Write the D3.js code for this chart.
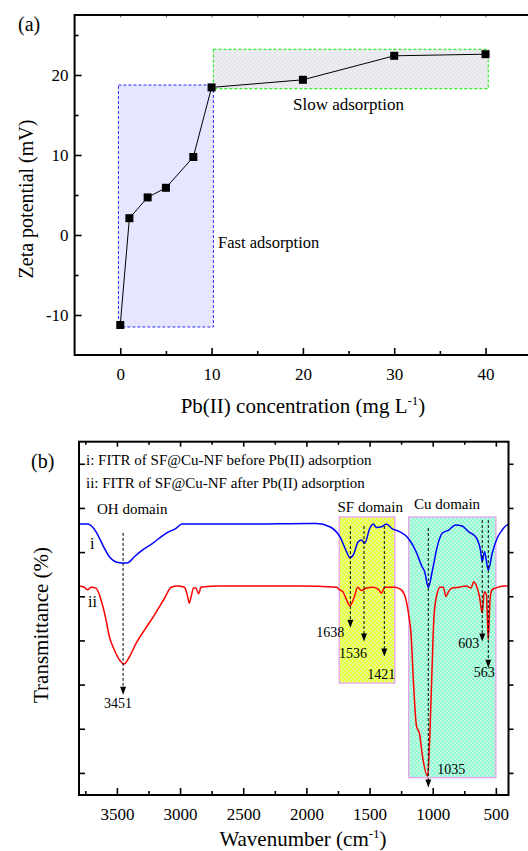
<!DOCTYPE html>
<html>
<head>
<meta charset="utf-8">
<script src="https://cdn.jsdelivr.net/npm/d3@7/dist/d3.min.js"></script>
<style>
  body { margin: 0; background: #fff; }
  svg { display: block; }
  text { font-family: "Liberation Serif", "Times New Roman", serif; fill: #000; }
</style>
</head>
<body>
<div id="chart"></div>
<script>
// ---- panel (a): zeta potential vs Pb(II) concentration
const conc = [0, 1, 3, 5, 8, 10, 20, 30, 40]
const zeta = [-11.25, 2.1, 4.7, 5.9, 9.75, 18.45, 19.4, 22.4, 22.6]
const fastBox = [-0.2, 10.2, -11.5, 18.75]   // x0, x1, y0, y1
const slowBox = [10.2, 40.3, 18.3, 23.2]
const zetaTicks = [-10, 0, 10, 20]
const zetaMinor = [-15, -5, 5, 15, 25]
const concTicks = [0, 10, 20, 30, 40]
const concMinor = [-5, 5, 15, 25, 35]

// ---- panel (b): FTIR spectra
const waveI = [3800, 3731, 3665, 3612, 3560, 3481, 3444, 3414, 3362, 3296, 3217, 3111, 3032, 2985, 2446, 1971, 1920, 1815, 1735, 1682, 1656, 1629, 1590, 1564, 1538, 1498, 1471, 1445, 1405, 1366, 1326, 1260, 1196, 1127, 1087, 1063, 1035, 1004, 964, 925, 873, 820, 767, 714, 661, 622, 608, 590, 560, 529, 490, 450, 410, 400]
const transI = [112.7, 112.7, 109.2, 103.2, 97.9, 95.2, 95.1, 95.2, 97.9, 101, 104, 108.5, 110.8, 112.7, 112.7, 113.0, 113.0, 111.5, 107, 100.2, 97.5, 98.7, 104.7, 105.5, 104, 110.8, 112.7, 111.2, 111.5, 112.7, 110.8, 109.2, 106.4, 99.6, 93.7, 91, 84, 91.2, 102.5, 108.5, 110, 112.3, 111.8, 109.2, 107, 101, 95.7, 100.2, 91.9, 99.5, 106.3, 110, 112.3, 112.5]
const waveII = [3800, 3758, 3731, 3705, 3665, 3626, 3586, 3560, 3521, 3481, 3444, 3400, 3347, 3281, 3202, 3123, 3070, 3018, 2965, 2941, 2927, 2909, 2894, 2874, 2854, 2833, 2684, 2050, 1762, 1736, 1710, 1682, 1655, 1623, 1593, 1565, 1526, 1473, 1425, 1407, 1380, 1301, 1249, 1211, 1188, 1172, 1152, 1128, 1106, 1077, 1040, 1029, 1008, 990, 970, 942, 916, 895, 875, 847, 792, 736, 697, 675, 657, 630, 608, 592, 575, 560, 546, 531, 499, 436, 400]
const transII = [84.7, 84.1, 82.9, 84.1, 83.7, 78.4, 69.3, 61.8, 55.8, 51.3, 49.3, 52.7, 58.8, 64.8, 71.6, 79.1, 84.1, 84.7, 84.1, 80.2, 76.9, 80.6, 83.8, 83.8, 81.1, 84.2, 84.7, 84.7, 84.1, 82.9, 82, 78.4, 75.7, 79.3, 84.1, 82.6, 83.7, 84.1, 82.9, 81.4, 84.1, 84.1, 82.9, 78.4, 70.8, 63.3, 40.7, 21.1, 18.1, 6.1, -1.5, 8.3, 42.2, 70.8, 79.9, 84.1, 84.1, 79.9, 82.1, 83.7, 84.1, 84.7, 83.7, 86.6, 85.2, 80, 72.4, 82, 81, 60.3, 78.4, 82.9, 83.8, 84.7, 84.7]
const peakLabels = ['3451', '1638', '1536', '1421', '1035', '603', '563']
const peakWave = [3451, 1652, 1544, 1383, 1035, 608, 560]
const peakTop = [108.7, 111.8, 111.8, 111.8, 110.9, 114.5, 114.5]
const peakTip = [35.4, 65.7, 59.5, 52.7, -6.6, 59.5, 47.6]
const sfBox = [1740, 1300, 40.7, 115.9]
const cuBox = [1190, 500, -2.1, 115.9]
const waveTicks = [3500, 3000, 2500, 2000, 1500, 1000, 500]
const waveMinor = [3750, 3250, 2750, 2250, 1750, 1250, 750]
const transTicks = [0, 20, 40, 60, 80, 100, 120, 140]

const width = 528
const height = 851

const svg = d3.select('#chart')
  .append('svg')
  .attr('width', width)
  .attr('height', height)

// checkered fills for the shaded domains
const defs = svg.append('defs')
function checker(id, c1, c2) {
  const p = defs.append('pattern')
    .attr('id', id)
    .attr('width', 4).attr('height', 4)
    .attr('patternUnits', 'userSpaceOnUse')
  p.append('rect').attr('width', 4).attr('height', 4).attr('fill', c1)
  p.append('rect').attr('width', 2).attr('height', 2).attr('fill', c2)
  p.append('rect').attr('x', 2).attr('y', 2).attr('width', 2).attr('height', 2).attr('fill', c2)
}
checker('fastFill', '#dae9ff', '#f0e4ff')
checker('slowFill', '#e4e8e8', '#f1ebf3')
checker('sfFill', '#f8ff3a', '#d8ff8a')
checker('cuFill', '#8cfcd0', '#c4f8e4')

const plain = d => String(d).replace('\u2212', '-')

// ================= panel (a)
const xA = d3.scaleLinear().domain([-5, 45]).range([74.6, 531.2])
const yA = d3.scaleLinear().domain([-15, 27.5]).range([355, 15])

const gA = svg.append('g')

gA.append('rect')
  .attr('x', xA(fastBox[0])).attr('y', yA(fastBox[3]))
  .attr('width', xA(fastBox[1]) - xA(fastBox[0]))
  .attr('height', yA(fastBox[2]) - yA(fastBox[3]))
  .attr('fill', 'url(#fastFill)')
  .attr('stroke', '#2a2aff').attr('stroke-width', 1)
  .attr('stroke-dasharray', '3,2')

gA.append('rect')
  .attr('x', xA(slowBox[0])).attr('y', yA(slowBox[3]))
  .attr('width', xA(slowBox[1]) - xA(slowBox[0]))
  .attr('height', yA(slowBox[2]) - yA(slowBox[3]))
  .attr('fill', 'url(#slowFill)')
  .attr('stroke', '#33ee33').attr('stroke-width', 1.2)
  .attr('stroke-dasharray', '3,2')

const zetaLine = d3.line()
  .x((d, i) => xA(conc[i]))
  .y(d => yA(d))

gA.append('path')
  .datum(zeta)
  .attr('d', zetaLine)
  .attr('fill', 'none')
  .attr('stroke', '#000')
  .attr('stroke-width', 1)

gA.selectAll('rect.pt')
  .data(zeta)
  .enter()
  .append('rect')
  .attr('class', 'pt')
  .attr('x', (d, i) => xA(conc[i]) - 4)
  .attr('y', d => yA(d) - 4)
  .attr('width', 8).attr('height', 8)
  .attr('fill', '#000')

// axes (a)
function styleAxis(g) {
  g.attr('font-family', null)
  g.select('.domain').remove()
  g.selectAll('line').attr('stroke', '#000').attr('stroke-width', 1.6)
  g.selectAll('text').attr('font-size', 17).attr('fill', '#000')
}

gA.append('g')
  .attr('transform', `translate(0, ${yA(-15)})`)
  .call(d3.axisBottom(xA).tickValues(concTicks).tickSize(-7).tickPadding(13).tickFormat(plain))
  .call(styleAxis)
gA.append('g')
  .attr('transform', `translate(0, ${yA(-15)})`)
  .call(d3.axisBottom(xA).tickValues(concMinor.filter(v => v > -5)).tickSize(-4).tickFormat(''))
  .call(styleAxis)
gA.append('g')
  .attr('transform', `translate(${xA(-5)}, 0)`)
  .call(d3.axisLeft(yA).tickValues(zetaTicks).tickSize(-7).tickPadding(6).tickFormat(plain))
  .call(styleAxis)
gA.append('g')
  .attr('transform', `translate(${xA(-5)}, 0)`)
  .call(d3.axisLeft(yA).tickValues(zetaMinor.filter(v => v > -15)).tickSize(-4).tickFormat(''))
  .call(styleAxis)
gA.append('g')
  .attr('transform', `translate(0, ${yA(27.5)})`)
  .call(d3.axisTop(xA).tickValues(concTicks.concat(concMinor.filter(v => v > -5))).tickSize(-2.5).tickFormat(''))
  .call(styleAxis)
  .selectAll('line').attr('stroke-width', 1).attr('stroke', '#555')

// frame lines
gA.append('path')
  .attr('d', `M${xA(45)},${yA(27.5)}H${xA(-5)}V${yA(-15)}H${xA(45)}`)
  .attr('fill', 'none').attr('stroke', '#000').attr('stroke-width', 2)

gA.append('text').attr('x', 18).attr('y', 31).attr('font-size', 20).text('(a)')
gA.append('text').attr('x', 293).attr('y', 110).attr('font-size', 17).text('Slow adsorption')
gA.append('text').attr('x', 218).attr('y', 248).attr('font-size', 16.5).text('Fast adsorption')

gA.append('text')
  .attr('transform', `translate(33, ${yA(4.5)}) rotate(-90)`)
  .attr('text-anchor', 'middle')
  .attr('font-size', 20)
  .text('Zeta potential (mV)')

const xLabA = gA.append('text')
  .attr('x', 303).attr('y', 413)
  .attr('text-anchor', 'middle')
  .attr('font-size', 21)
xLabA.append('tspan').text('Pb(II) concentration (mg L')
xLabA.append('tspan').attr('font-size', 13).attr('dy', -8).text('-1')
xLabA.append('tspan').attr('dy', 8).text(')')

// ================= panel (b)
const xB = d3.scaleLinear().domain([3800, 400]).range([79, 508.5])
const yB = d3.scaleLinear().domain([-10, 150]).range([795, 441.7])
const gB = svg.append('g')

function box(b, fill) {
  gB.append('rect')
    .attr('x', xB(b[0])).attr('y', yB(b[3]))
    .attr('width', xB(b[1]) - xB(b[0]))
    .attr('height', yB(b[2]) - yB(b[3]))
    .attr('fill', fill)
    .attr('stroke', '#e8a2ec').attr('stroke-width', 1.3)
}
box(sfBox, 'url(#sfFill)')
box(cuBox, 'url(#cuFill)')

const spec = d3.line()
  .x(d => xB(d[0]))
  .y(d => yB(d[1]))
  .curve(d3.curveMonotoneX)

gB.append('path')
  .datum(waveI.map((w, i) => [w, transI[i]]))
  .attr('d', spec)
  .attr('fill', 'none').attr('stroke', '#0000ff').attr('stroke-width', 1.5)

gB.append('path')
  .datum(waveII.map((w, i) => [w, transII[i]]))
  .attr('d', spec)
  .attr('fill', 'none').attr('stroke', '#ff0000').attr('stroke-width', 1.5)

// peak arrows
const labelPlace = [
  { anchor: 'middle', dx: -5, dy: 13 },
  { anchor: 'end', dx: -6, dy: 9 },
  { anchor: 'end', dx: 3, dy: 16 },
  { anchor: 'middle', dx: -3, dy: 22 },
  { anchor: 'start', dx: 9, dy: -13 },
  { anchor: 'end', dx: -3, dy: 6 },
  { anchor: 'middle', dx: -4, dy: 9 }
]

peakWave.forEach((w, i) => {
  const x = xB(w)
  const y0 = yB(peakTop[i])
  const y1 = yB(peakTip[i])
  gB.append('line')
    .attr('x1', x).attr('x2', x)
    .attr('y1', y0).attr('y2', y1 - 7)
    .attr('stroke', '#000').attr('stroke-width', 1)
    .attr('stroke-dasharray', '3,2')
  gB.append('path')
    .attr('d', `M${x - 3},${y1 - 8}L${x + 3},${y1 - 8}L${x},${y1}Z`)
    .attr('fill', '#000')
  const p = labelPlace[i]
  gB.append('text')
    .attr('x', x + p.dx).attr('y', y1 + p.dy)
    .attr('text-anchor', p.anchor)
    .attr('font-size', 14)
    .text(peakLabels[i])
})

// axes (b)
const bottomB = yB(-10)
const topB = yB(150)
gB.append('g')
  .attr('transform', `translate(0, ${bottomB})`)
  .call(d3.axisBottom(xB).tickValues(waveTicks).tickSize(-7).tickPadding(13).tickFormat(plain))
  .call(styleAxis)
gB.append('g')
  .attr('transform', `translate(0, ${bottomB})`)
  .call(d3.axisBottom(xB).tickValues(waveMinor).tickSize(-4).tickFormat(''))
  .call(styleAxis)
gB.append('g')
  .attr('transform', `translate(0, ${topB})`)
  .call(d3.axisTop(xB).tickValues(waveTicks).tickSize(-5).tickFormat(''))
  .call(styleAxis)
gB.append('g')
  .attr('transform', `translate(0, ${topB})`)
  .call(d3.axisTop(xB).tickValues(waveMinor).tickSize(-3).tickFormat(''))
  .call(styleAxis)
gB.append('g')
  .attr('transform', `translate(${xB(3800)}, 0)`)
  .call(d3.axisLeft(yB).tickValues(transTicks).tickSize(-6).tickFormat(''))
  .call(styleAxis)
gB.append('g')
  .attr('transform', `translate(${xB(400)}, 0)`)
  .call(d3.axisRight(yB).tickValues(transTicks).tickSize(5).tickFormat(''))
  .call(styleAxis)

gB.append('rect')
  .attr('x', xB(3800)).attr('y', topB)
  .attr('width', xB(400) - xB(3800))
  .attr('height', bottomB - topB)
  .attr('fill', 'none').attr('stroke', '#000').attr('stroke-width', 2)

gB.selectAll('.tick text').attr('font-size', 17)

gB.append('text').attr('x', 31).attr('y', 468).attr('font-size', 20).text('(b)')
gB.append('text').attr('x', 86).attr('y', 465).attr('font-size', 15)
  .text('i: FITR of SF@Cu-NF before Pb(II) adsorption')
gB.append('text').attr('x', 86).attr('y', 488).attr('font-size', 15)
  .text('ii: FITR of SF@Cu-NF after Pb(II) adsorption')
gB.append('text').attr('x', 97).attr('y', 514).attr('font-size', 15).text('OH domain')
gB.append('text').attr('x', xB(1740) + 31).attr('y', 512).attr('text-anchor', 'middle').attr('font-size', 15).text('SF domain')
gB.append('text').attr('x', 447).attr('y', 509).attr('text-anchor', 'middle').attr('font-size', 15).text('Cu domain')
gB.append('text').attr('x', 90).attr('y', 549).attr('font-size', 16).text('i')
gB.append('text').attr('x', 88).attr('y', 607).attr('font-size', 16).text('ii')

gB.append('text')
  .attr('transform', `translate(48, ${yB(67)}) rotate(-90)`)
  .attr('text-anchor', 'middle')
  .attr('font-size', 21)
  .text('Transmittance (%)')

const xLabB = gB.append('text')
  .attr('x', 303).attr('y', 846)
  .attr('text-anchor', 'middle')
  .attr('font-size', 21)
xLabB.append('tspan').text('Wavenumber (cm')
xLabB.append('tspan').attr('font-size', 13).attr('dy', -8).text('-1')
xLabB.append('tspan').attr('dy', 8).text(')')
</script>
</body>
</html>
